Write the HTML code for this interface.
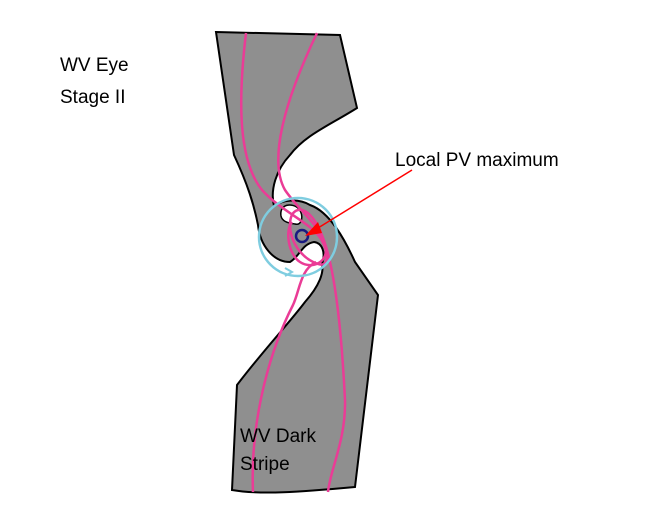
<!DOCTYPE html>
<html><head><style>
html,body{margin:0;padding:0;background:#fff;}
svg{display:block;}
text{font-family:"Liberation Sans",sans-serif;fill:#000;}
</style></head><body>
<svg width="650" height="524" viewBox="0 0 650 524">
<path d="M216,32 L340,35 L357,108 C330,125 305,135 290,155 C276,170 270,190 274,206 C282,200 298,198 310,205 C330,212 345,240 355,262 L378,295 L355,487 C300,492 260,495 232,490 L237,385 C262,352 290,322 305,302 C320,285 324,272 322,264 C326,252 322,243 314,242 C302,244 300,256 290,262 C273,262 260,245 258,225 C254,205 248,185 234,155 Z" fill="#8f8f8f" stroke="#000" stroke-width="2"/>
<path d="M281,216 C279,204 292,202 299,209 C304,216 302,226 295,224 C287,223 282,221 281,216 Z" fill="#fff" stroke="#000" stroke-width="1.5"/>
<g fill="none" stroke="#ea3c96" stroke-width="2.5">
<path d="M246,33 C238,100 238,160 262,190 C280,210 305,220 318,235 C330,250 330,268 318,264 C300,258 290,240 290,225 C290,210 300,205 310,215 C330,235 340,300 345,400 C346,440 330,470 328,492"/>
<path d="M317,33 C285,100 268,160 285,190 C300,212 320,225 325,245 C330,262 312,270 300,262 C288,254 285,230 292,222"/>
<path d="M316,262 C300,270 300,290 293,305 C270,350 250,420 253,492"/>
</g>
<circle cx="298" cy="237" r="39" fill="none" stroke="#7fcde0" stroke-width="2.5"/>
<path d="M285,268 L292,272 L285,276" fill="none" stroke="#7fcde0" stroke-width="2"/>
<circle cx="302" cy="236" r="6" fill="none" stroke="#1a1a80" stroke-width="2.5"/>
<line x1="412" y1="170" x2="318" y2="228" stroke="#f00" stroke-width="1.5"/>
<polygon points="305,236 318,222 322,233" fill="#f00"/>
<text x="395" y="166" font-size="19">Local PV maximum</text>
<text x="60" y="71" font-size="19">WV Eye</text>
<text x="60" y="103" font-size="19">Stage II</text>
<text x="240" y="442" font-size="19">WV Dark</text>
<text x="240" y="470" font-size="19">Stripe</text>
</svg>
</body></html>
